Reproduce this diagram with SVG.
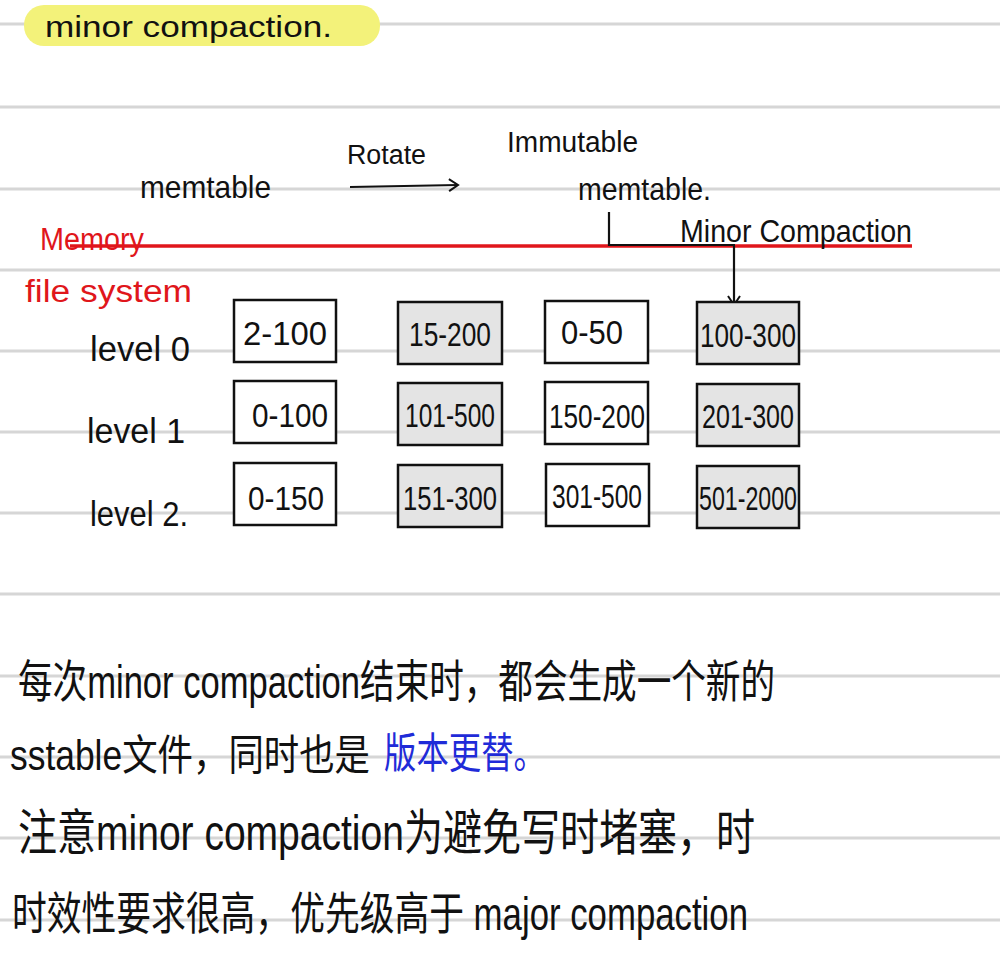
<svg xmlns="http://www.w3.org/2000/svg" width="1000" height="956" viewBox="0 0 1000 956">
<defs>
<style>
.rule{stroke:#d6d6d6;stroke-width:3}
.hw{font-family:"Liberation Sans","Noto Sans CJK SC",sans-serif;fill:#111}
.red{fill:#e0161b}
.box{stroke:#111;stroke-width:2.5;fill:#fff}
.gbox{stroke:#111;stroke-width:2.5;fill:#e4e4e4}
.bt{font-family:"Liberation Sans Narrow","Liberation Sans",sans-serif;font-size:34px;fill:#111;text-anchor:middle}
.ln{stroke:#111;stroke-width:2.2;fill:none}
</style>
<marker id="ah" markerWidth="14" markerHeight="14" refX="11" refY="7" orient="auto" markerUnits="userSpaceOnUse">
<path d="M2,1 L11,7 L2,13" fill="none" stroke="#111" stroke-width="2"/>
</marker>
</defs>
<rect width="1000" height="956" fill="#fff"/>
<g id="rules">
<line class="rule" x1="0" y1="24" x2="1000" y2="24"/>
<line class="rule" x1="0" y1="107" x2="1000" y2="107"/>
<line class="rule" x1="0" y1="189" x2="1000" y2="189"/>
<line class="rule" x1="0" y1="270" x2="1000" y2="270"/>
<line class="rule" x1="0" y1="351" x2="1000" y2="351"/>
<line class="rule" x1="0" y1="432" x2="1000" y2="432"/>
<line class="rule" x1="0" y1="513" x2="1000" y2="513"/>
<line class="rule" x1="0" y1="594" x2="1000" y2="594"/>
<line class="rule" x1="0" y1="676" x2="1000" y2="676"/>
<line class="rule" x1="0" y1="757" x2="1000" y2="757"/>
<line class="rule" x1="0" y1="838" x2="1000" y2="838"/>
<line class="rule" x1="0" y1="920" x2="1000" y2="920"/>
</g>
<g id="title">
<rect x="24" y="5" width="356" height="41" rx="20" fill="#f3f27a"/>
<text class="hw" x="45" y="37" font-size="30" textLength="287" lengthAdjust="spacingAndGlyphs">minor compaction.</text>
</g>
<g id="divider">
<line x1="70" y1="246" x2="912" y2="246" stroke="#e0161b" stroke-width="3.5"/>
<text class="hw red" x="40" y="250" font-size="31" textLength="104" lengthAdjust="spacingAndGlyphs">Memory</text>
<text class="hw red" x="25" y="302" font-size="31" textLength="167" lengthAdjust="spacingAndGlyphs">file system</text>
</g>
<g id="memtable">
<text class="hw" x="140" y="198" font-size="32" textLength="131" lengthAdjust="spacingAndGlyphs">memtable</text>
</g>
<g id="immutable">
<text class="hw" x="507" y="152" font-size="29" textLength="131" lengthAdjust="spacingAndGlyphs">Immutable</text>
<text class="hw" x="578" y="200" font-size="32" textLength="133" lengthAdjust="spacingAndGlyphs">memtable.</text>
</g>
<g id="connectors">
<line class="ln" x1="350" y1="187" x2="458" y2="185" marker-end="url(#ah)"/>
<text class="hw" x="347" y="164" font-size="27" textLength="79" lengthAdjust="spacingAndGlyphs">Rotate</text>
<polyline class="ln" points="609,212 609,245 735,245"/>
<line class="ln" x1="734" y1="246" x2="734" y2="305" marker-end="url(#ah)"/>
<text class="hw" x="680" y="242" font-size="31" textLength="232" lengthAdjust="spacingAndGlyphs">Minor Compaction</text>
</g>
<g id="levels">
<text class="hw" x="90" y="361" font-size="35" textLength="100" lengthAdjust="spacingAndGlyphs">level 0</text>
<text class="hw" x="87" y="443" font-size="35" textLength="98" lengthAdjust="spacingAndGlyphs">level 1</text>
<text class="hw" x="90" y="526" font-size="35" textLength="98" lengthAdjust="spacingAndGlyphs">level 2.</text>
</g>
<g id="r0c1"><rect class="box" x="234" y="300" width="102" height="62"/><text class="bt" x="285" y="345" textLength="84" lengthAdjust="spacingAndGlyphs">2-100</text></g>
<g id="r0c2"><rect class="gbox" x="398" y="302" width="104" height="62"/><text class="bt" x="450" y="346" textLength="82" lengthAdjust="spacingAndGlyphs">15-200</text></g>
<g id="r0c3"><rect class="box" x="545" y="301" width="103" height="62"/><text class="bt" x="592" y="344" textLength="62" lengthAdjust="spacingAndGlyphs">0-50</text></g>
<g id="r0c4"><rect class="gbox" x="697" y="302" width="102" height="62"/><text class="bt" x="748" y="347" textLength="96" lengthAdjust="spacingAndGlyphs">100-300</text></g>
<g id="r1c1"><rect class="box" x="234" y="381" width="102" height="62"/><text class="bt" x="290" y="427" textLength="76" lengthAdjust="spacingAndGlyphs">0-100</text></g>
<g id="r1c2"><rect class="gbox" x="398" y="383" width="104" height="62"/><text class="bt" x="450" y="427" textLength="90" lengthAdjust="spacingAndGlyphs">101-500</text></g>
<g id="r1c3"><rect class="box" x="545" y="382" width="103" height="62"/><text class="bt" x="597" y="428" textLength="96" lengthAdjust="spacingAndGlyphs">150-200</text></g>
<g id="r1c4"><rect class="gbox" x="697" y="384" width="102" height="62"/><text class="bt" x="748" y="428" textLength="92" lengthAdjust="spacingAndGlyphs">201-300</text></g>
<g id="r2c1"><rect class="box" x="234" y="463" width="102" height="62"/><text class="bt" x="286" y="510" textLength="76" lengthAdjust="spacingAndGlyphs">0-150</text></g>
<g id="r2c2"><rect class="gbox" x="398" y="465" width="104" height="62"/><text class="bt" x="450" y="510" textLength="94" lengthAdjust="spacingAndGlyphs">151-300</text></g>
<g id="r2c3"><rect class="box" x="546" y="464" width="103" height="62"/><text class="bt" x="597" y="508" textLength="90" lengthAdjust="spacingAndGlyphs">301-500</text></g>
<g id="r2c4"><rect class="gbox" x="697" y="466" width="102" height="62"/><text class="bt" x="748" y="510" textLength="98" lengthAdjust="spacingAndGlyphs">501-2000</text></g>
<g id="notes">
<text class="hw" transform="translate(18,698) scale(1,1.3)" x="0" y="0" font-size="35" textLength="757" lengthAdjust="spacingAndGlyphs">每次minor compaction结束时，都会生成一个新的</text>
<text class="hw" transform="translate(10,770) scale(1,1.3)" x="0" y="0" font-size="32" textLength="360" lengthAdjust="spacingAndGlyphs">sstable文件，同时也是</text>
<text class="hw" transform="translate(384,768) scale(1,1.3)" x="0" y="0" font-size="32" style="fill:#1f2bd8" textLength="162" lengthAdjust="spacingAndGlyphs">版本更替。</text>
<text class="hw" transform="translate(18,850) scale(1,1.3)" x="0" y="0" font-size="38" textLength="737" lengthAdjust="spacingAndGlyphs">注意minor compaction为避免写时堵塞，时</text>
<text class="hw" transform="translate(12,930) scale(1,1.3)" x="0" y="0" font-size="35" textLength="736" lengthAdjust="spacingAndGlyphs">时效性要求很高，优先级高于 major compaction</text>
</g>
</svg>
